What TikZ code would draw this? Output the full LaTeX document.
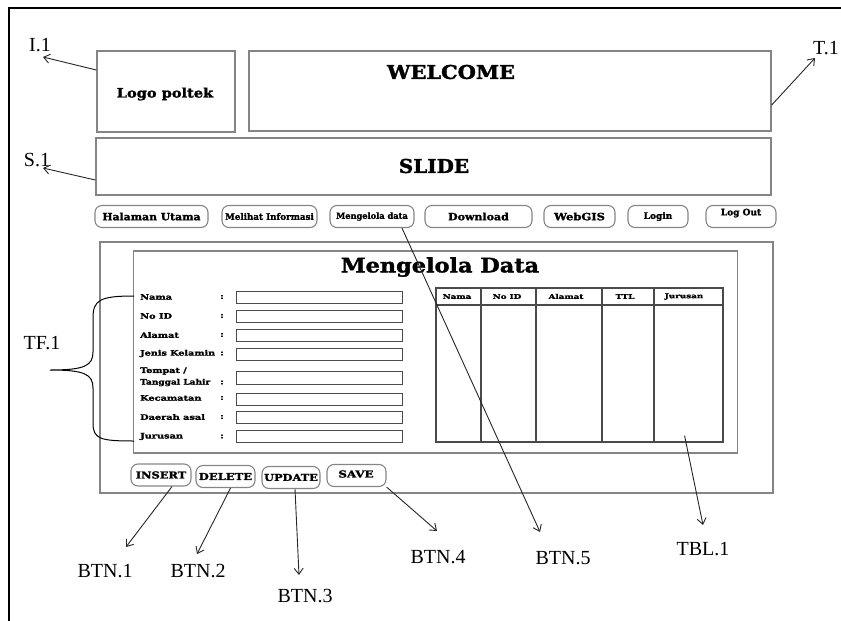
\documentclass[tikz,border=0pt]{standalone}
\usepackage{fontspec}
\usepackage{graphicx}
\setmainfont{Liberation Serif}
\newfontfamily\slab[FakeBold=1.6]{DejaVu Serif Bold}
\usetikzlibrary{arrows.meta}
\definecolor{boxgray}{HTML}{858585}
\definecolor{gridgray}{HTML}{4A4A4A}
% heavy slab-serif interface text, stretched horizontally
\newcommand\ui[3][1.2]{\scalebox{#1}[1]{\fontsize{#2}{#2}\selectfont\slab #3}}

\begin{document}
\begin{tikzpicture}[x=1pt,y=-1pt,
  panel/.style={draw=boxgray, line width=1.4pt, inner sep=0pt},
  btn/.style={draw=boxgray, line width=1.1pt, rounded corners=7pt, inner sep=0pt, minimum height=22pt},
  field/.style={draw=gridgray, line width=0.9pt, inner sep=0pt, minimum width=166pt, minimum height=12pt},
  tag/.style={font=\fontsize{20}{20}\selectfont, inner sep=0pt},
  flabel/.style={anchor=west, inner sep=0pt},
  ptr/.style={-{Straight Barb[length=6pt,width=9pt]}, line width=0.9pt, draw=black!85},
  grid/.style={draw=gridgray, line width=1.1pt}]
\useasboundingbox (0,0) rectangle (841,621);

% page edge
\draw[line width=2pt] (9,621) -- (9,8) -- (841,8);

% header
\node[panel, minimum width=138pt, minimum height=81pt] (logo) at (166,91.5) {};
\node (logotxt) at (165,94) {\ui[1.12]{13}{Logo poltek}};
\node[panel, minimum width=522pt, minimum height=80pt] (welcome) at (510,91) {};
\node (welcometxt) at (451,72) {\ui[1.1]{19}{WELCOME}};
\node[panel, minimum width=675pt, minimum height=57pt] (slide) at (433.5,166.5) {};
\node (slidetxt) at (434,166) {\ui[1.05]{19}{SLIDE}};

% menu
\node[btn, minimum width=113pt] (home) at (151.5,216.5) {\ui[1.08]{10}{Halaman Utama}};
\node[btn, minimum width=95pt] (info) at (269.5,216.5) {\ui[0.97]{9}{Melihat Informasi}};
\node[btn, minimum width=84pt] (manage) at (372,216.5) {\ui[0.97]{8.5}{Mengelola data}};
\node[btn, minimum width=107pt] (download) at (478.5,216.5) {\ui[1.1]{10}{Download}};
\node[btn, minimum width=71pt] (webgis) at (579.5,216.5) {\ui[1.15]{10}{WebGIS}};
\node[btn, minimum width=60pt] (login) at (658,216.5) {\ui[1.0]{9}{Login}};
\node[btn, minimum width=70pt] (logout) at (741,216.5) {};
\node (logouttxt) at (741,213) {\ui[1.0]{9}{Log Out}};

% content panels
\node[panel, minimum width=673pt, minimum height=251pt] (content) at (436.5,367.5) {};
\node[panel, minimum width=604pt, minimum height=202pt] (inner) at (435.5,352) {};
\node (title) at (440,267) {\ui[1.12]{20}{Mengelola Data}};

% form
\node[flabel] (l1) at (140,297) {\ui[1.3]{7.5}{Nama}};
\node[flabel] (l2) at (140,316) {\ui[1.3]{7.5}{No ID}};
\node[flabel] (l3) at (140,335) {\ui[1.3]{7.5}{Alamat}};
\node[flabel] (l4) at (140,353.5) {\ui[1.28]{7.5}{Jenis Kelamin}};
\node[flabel] (l5a) at (140,371) {\ui[1.28]{7.5}{Tempat /}};
\node[flabel] (l5b) at (140,382.5) {\ui[1.2]{7.5}{Tanggal Lahir}};
\node[flabel] (l6) at (140,398) {\ui[1.3]{7.5}{Kecamatan}};
\node[flabel] (l7) at (140,417) {\ui[1.3]{7.5}{Daerah asal}};
\node[flabel] (l8) at (140,436.5) {\ui[1.3]{7.5}{Jurusan}};
\foreach \y/\n in {297/1, 316/2, 335/3, 353.5/4, 382.5/5, 398/6, 417/7, 436.5/8}
  \node[inner sep=0pt] (c\n) at (222,\y) {\ui[1.2]{7.5}{:}};
\node[field] (f1) at (319,297) {};
\node[field] (f2) at (319,316.5) {};
\node[field] (f3) at (319,335) {};
\node[field] (f4) at (319,354) {};
\node[field, minimum height=13pt] (f5) at (319,377.5) {};
\node[field] (f6) at (319,399) {};
\node[field] (f7) at (319,417) {};
\node[field] (f8) at (319,436) {};

% brace grouping the text fields
\coordinate (bt) at (134,296);
\coordinate (bb) at (134,441);
\coordinate (btip) at (50,370);
\draw[line width=1pt] (bt) .. controls (100,296) and (93,300) .. (93,318)
  -- (93,352) .. controls (93,366) and (84,370) .. (btip)
  .. controls (84,370) and (93,374) .. (93,388)
  -- (93,423) .. controls (93,439) and (100,441) .. (bb);

% data table
\node[grid, inner sep=0pt, minimum width=287pt, minimum height=154pt] (tbl) at (579.5,365) {};
\draw[grid] (436,305) -- (723,305);
\foreach \x in {481,536,602,654} \draw[grid] (\x,288) -- (\x,442);
\node (h1) at (457,296.5) {\ui[1.35]{6.5}{Nama}};
\node (h2) at (507,296.5) {\ui[1.35]{6.5}{No ID}};
\node (h3) at (566,296.5) {\ui[1.35]{6.5}{Alamat}};
\node (h4) at (625,296.5) {\ui[1.35]{6.5}{TTL}};
\node (h5) at (684,296.5) {\ui[1.35]{6.5}{Jurusan}};

% action buttons
\node[btn, minimum width=60pt] (insert) at (161,475) {\ui[1.2]{9.5}{INSERT}};
\node[btn, minimum width=59pt] (delete) at (225.5,476.5) {\ui[1.22]{9.5}{DELETE}};
\node[btn, minimum width=58pt] (update) at (291,477.5) {\ui[1.2]{9.5}{UPDATE}};
\node[btn, minimum width=59pt] (save) at (356.5,475.5) {};
\node (savetxt) at (356,474) {\ui[1.25]{9.5}{SAVE}};

% callout tags
\node[tag] (tI) at (40,45) {I.1};
\node[tag] (tT) at (826,48) {T.1};
\node[tag] (tS) at (37,160) {S.1};
\node[tag] (tTF) at (42,343) {TF.1};
\node[tag] (b1) at (105,571) {BTN.1};
\node[tag] (b2) at (198,571) {BTN.2};
\node[tag] (b3) at (305,596) {BTN.3};
\node[tag] (b4) at (438,557) {BTN.4};
\node[tag] (b5) at (563,558) {BTN.5};
\node[tag] (tb) at (703,549) {TBL.1};

\coordinate (aI) at (43,57);
\coordinate (aT) at (815,58);
\coordinate (aS) at (43,168);
\coordinate (a1) at (126,547);
\coordinate (a2) at (197,554);
\coordinate (a3) at (299,575);
\coordinate (a4) at (437,531);
\coordinate (a5) at (540,532);
\coordinate (a6) at (703,525);

\draw[ptr] ([yshift=21.5pt]logo.west) -- (aI);
\draw[ptr] ([yshift=-14pt]welcome.east) -- (aT);
\draw[ptr] ([yshift=-13.5pt]slide.west) -- (aS);
\draw[ptr] ([xshift=11pt]insert.south) -- (a1);
\draw[ptr] ([xshift=5pt]delete.south) -- (a2);
\draw[ptr] ([xshift=4pt]update.south) -- (a3);
\draw[ptr] (save.south east) -- (a4);
\draw[ptr] ([xshift=30pt]manage.south) -- (a5);
\draw[ptr] ([xshift=-39pt,yshift=7pt]tbl.south east) -- (a6);
\end{tikzpicture}
\end{document}
